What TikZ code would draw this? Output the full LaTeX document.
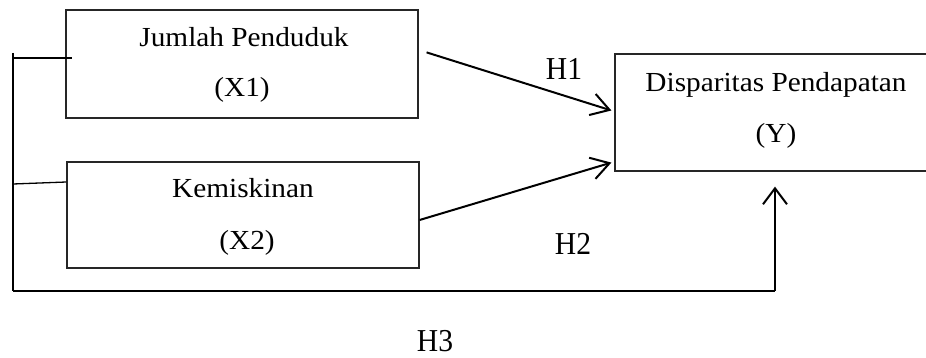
\documentclass[tikz,border=0pt]{standalone}
\usepackage{fontspec}
\setmainfont{Liberation Serif}
\usetikzlibrary{arrows.meta,calc}
\newcommand\bxt[1]{\scalebox{1.01}[0.95]{#1}}
\newcommand\hlab[1]{\scalebox{1.02}[1.1]{#1}}
\begin{document}
\begin{tikzpicture}[x=1pt,y=-1pt,
  box/.style={draw=black!85,line width=1.2pt,rectangle,inner sep=0pt},
  txt/.style={anchor=base,inner sep=0pt,font=\fontsize{29}{34}\selectfont},
  arr/.style={line width=2pt,-{Straight Barb[length=18pt,width=22pt]}},
  brk/.style={line width=1.3pt}
]
\useasboundingbox (0,0) rectangle (926,358);
\clip (0,0) rectangle (926,358);
% boxes
\node[box,minimum width=352pt,minimum height=108pt] (x1) at (242,64) {};
\node[box,minimum width=352pt,minimum height=106pt] (x2) at (243,215) {};
\node[box,minimum width=325pt,minimum height=117pt] (y) at (777.5,112.5) {};
% box texts
\node[txt] (t1a) at (244,47) {\bxt{Jumlah Penduduk}};
\node[txt] (t1b) at (242,97) {\bxt{(X1)}};
\node[txt] (t2a) at (243,197) {\bxt{Kemiskinan}};
\node[txt] (t2b) at (247,249) {\bxt{(X2)}};
\node[txt] (t3a) at (776,92) {\bxt{Disparitas Pendapatan}};
\node[txt] (t3b) at (776,143) {\bxt{(Y)}};
% hypothesis labels
\node[txt] (h1) at (564,80) {\hlab{H1}};
\node[txt] (h2) at (573,254) {\hlab{H2}};
\node[txt] (h3) at (435,351) {\hlab{H3}};
% arrows H1, H2
\draw[arr] ($(x1.north east)+(8,43)$) -- ($(y.west)+(-3,-2)$);
\draw[arr] ($(x2.east)+(0,5)$) -- ($(y.south west)+(-3,-9)$);
% bracket for H3
\coordinate (btop) at (13,53);
\coordinate (b1) at (13,58);
\coordinate (b2) at (13,184);
\coordinate (bbot) at (13,291);
\coordinate (c3) at (775,291);
\draw[brk] (btop) -- (bbot);
\draw[brk] (b1) -- ($(x1.west)+(7,-6)$);
\draw[brk] (b2) -- ($(x2.west)+(0,-33)$);
\draw[line width=1.8pt] (bbot) -- (c3);
\draw[line width=2pt,-{Straight Barb[length=16pt,width=24pt]},shorten >=15pt] (c3) -- (c3 |- y.south);
\end{tikzpicture}
\end{document}
